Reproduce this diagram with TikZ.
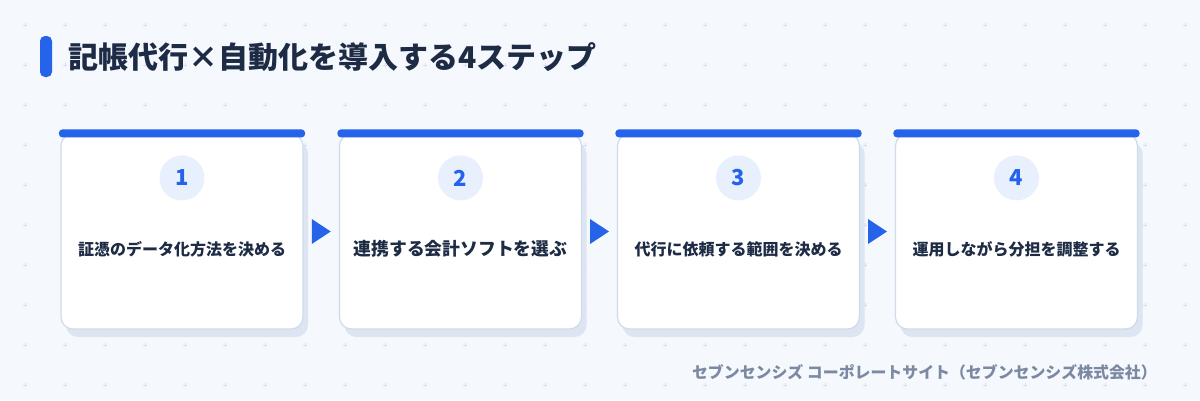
\documentclass[tikz,border=0pt]{standalone}
\usepackage{fontspec}
\setmainfont{Noto Sans CJK JP}
\usetikzlibrary{calc}
\definecolor{bgc}{HTML}{F5F8FD}
\definecolor{gridc}{HTML}{D9E1EE}
\definecolor{bluec}{HTML}{2563EB}
\definecolor{navyc}{HTML}{1E2B45}
\definecolor{grayc}{HTML}{7B89A2}
\definecolor{borderc}{HTML}{CFDBEA}
\definecolor{shadowc}{HTML}{DCE5F1}
\definecolor{circc}{HTML}{E8F0FD}
\tikzset{
  card/.style={draw=borderc, line width=1.2pt, fill=white, rounded corners=12pt,
    minimum width=242pt, minimum height=195pt, inner sep=0pt},
  shadowbox/.style={fill=shadowc, rounded corners=12pt},
  topbar/.style={fill=bluec, rounded corners=3.5pt},
  numcirc/.style={circle, fill=circc, minimum size=45pt, inner sep=0pt,
    text=bluec, font=\fontsize{22}{22}\selectfont\bfseries},
  steptext/.style={text=navyc, inner sep=0pt},
  arrowtri/.style={fill=bluec},
  plusmark/.style={draw=gridc, line width=0.8pt},
}
\begin{document}
\begin{tikzpicture}[x=1pt,y=-1pt]
\useasboundingbox (0,0) rectangle (1200,400);
\fill[bgc] (0,0) rectangle (1200,400);
% grid of small crosses
\foreach \gx in {25,65,...,1185}{
  \foreach \gy in {25,65,...,385}{
    \draw[plusmark] (\gx-2,\gy) -- (\gx+2,\gy) (\gx,\gy-2) -- (\gx,\gy+2);
  }
}
% title
\fill[bluec, rounded corners=5pt] (40,36) rectangle (52,77);
\node[anchor=west, text=navyc, inner sep=0pt, font=\fontsize{30}{30}\selectfont\bfseries] (title) at (68,57.5) {記帳代行×自動化を導入する4ステップ};
% cards
\foreach \i/\cx/\num/\fs/\txt in {1/182/1/16/証憑のデータ化方法を決める,
                              2/460.5/2/17.8/連携する会計ソフトを選ぶ,
                              3/738.5/3/16/代行に依頼する範囲を決める,
                              4/1016.5/4/16/運用しながら分担を調整する}{
  \fill[shadowbox] (\cx-121+5,134+8) rectangle (\cx+121+5,329+8);
  \node[card] (c\i) at (\cx,231.5) {};
  \fill[topbar] ($(c\i.north west)+(-1.5,-4)$) rectangle ($(c\i.north east)+(1.5,4)$);
  \node[numcirc] (n\i) at ($(c\i.north)+(0,44.5)$) {\num};
  \node[steptext, font=\fontsize{\fs}{\fs}\selectfont\bfseries] (t\i) at ($(c\i.center)+(0,17.5)$) {\txt};
}
% arrows between cards
\foreach \a/\b in {1/2,2/3,3/4}{
  \coordinate (m\a) at ($(c\a.east)!0.5!(c\b.west)$);
  \fill[arrowtri] ($(m\a)+(-9.5,-12.5)$) -- ($(m\a)+(9.5,0)$) -- ($(m\a)+(-9.5,12.5)$) -- cycle;
}
% footer
\node[anchor=east, text=grayc, inner sep=0pt, font=\fontsize{15.9}{15.9}\selectfont\bfseries] (foot) at (1157,372) {セブンセンシズ コーポレートサイト（セブンセンシズ株式会社）};
\end{tikzpicture}
\end{document}
